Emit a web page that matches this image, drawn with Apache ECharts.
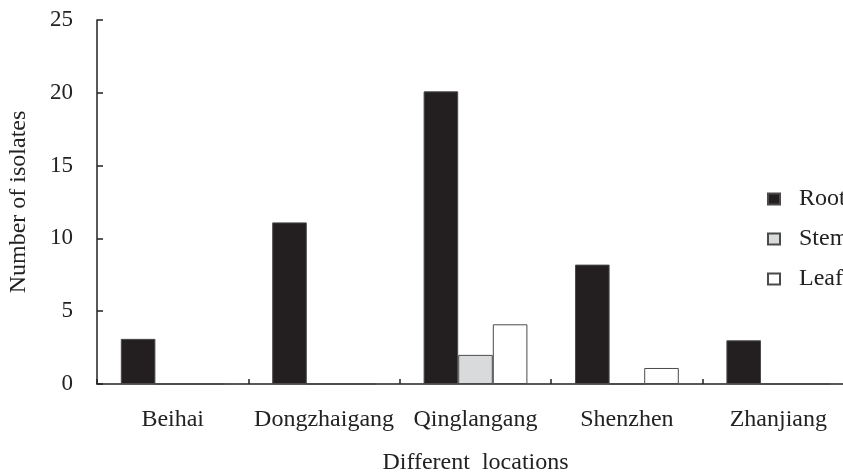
<!DOCTYPE html>
<html><head><meta charset="utf-8">
<script src="https://cdn.jsdelivr.net/npm/echarts@6/dist/echarts.min.js"></script>
<style>html,body{margin:0;padding:0;background:#fff;overflow:hidden}#c{width:843px;height:472px}</style>
</head><body><div id="c"></div>
<script>
const categories = ['Beihai', 'Dongzhaigang', 'Qinglangang', 'Shenzhen', 'Zhanjiang'];
const rootValues = [3.1, 11.1, 20.1, 8.2, 3.0];
const stemValues = [0, 0, 2.0, 0, 0];
const leafValues = [0, 0, 4.1, 1.1, 0];
const yTicks = [0, 5, 10, 15, 20, 25];

const font = 'Liberation Serif';
const chart = echarts.init(document.getElementById('c'), null, {renderer: 'canvas'});
const border = {borderColor: '#4a4a4a', borderWidth: 1};
chart.setOption({
  animation: false,
  backgroundColor: '#fff',
  grid: {left: 97, right: -11, top: 20, bottom: 88, containLabel: false, outerBoundsMode: 'none'},
  legend: {
    orient: 'vertical', left: 762, top: 182, itemGap: 16,
    icon: 'rect', itemWidth: 12, itemHeight: 11,
    textStyle: {fontFamily: font, fontSize: 24, color: '#222', padding: [0, 0, 0, 14]},
    data: ['Root', 'Stem', 'Leaf']
  },
  xAxis: {
    type: 'category', data: categories,
    name: 'Different  locations', nameLocation: 'middle', nameGap: 67,
    nameTextStyle: {fontFamily: font, fontSize: 24, color: '#222'},
    axisLine: {lineStyle: {color: '#222', width: 1.5}},
    axisTick: {show: true, inside: true, length: 5, lineStyle: {color: '#222', width: 1.5}},
    axisLabel: {fontFamily: font, fontSize: 24, color: '#222', margin: 24, interval: 0},
    splitLine: {show: false}
  },
  yAxis: {
    type: 'value', min: yTicks[0], max: yTicks[yTicks.length - 1], interval: 5,
    name: 'Number of isolates', nameLocation: 'middle', nameGap: 66, nameRotate: 90,
    nameTextStyle: {fontFamily: font, fontSize: 24, color: '#222'},
    axisLine: {show: true, lineStyle: {color: '#222', width: 1.5}},
    axisTick: {show: true, inside: true, length: 6, lineStyle: {color: '#222', width: 1.5}},
    axisLabel: {fontFamily: font, fontSize: 23, color: '#222', margin: 24},
    splitLine: {show: false}
  },
  series: [
    {name: 'Root', type: 'bar', data: rootValues, barWidth: 34.6, barGap: '0%',
     itemStyle: Object.assign({color: '#231f20'}, border)},
    {name: 'Stem', type: 'bar', data: stemValues, barWidth: 34.6, barGap: '0%',
     itemStyle: Object.assign({color: '#d9dadb'}, border)},
    {name: 'Leaf', type: 'bar', data: leafValues, barWidth: 34.6, barGap: '0%',
     itemStyle: Object.assign({color: '#ffffff'}, border)}
  ]
});
</script></body></html>
